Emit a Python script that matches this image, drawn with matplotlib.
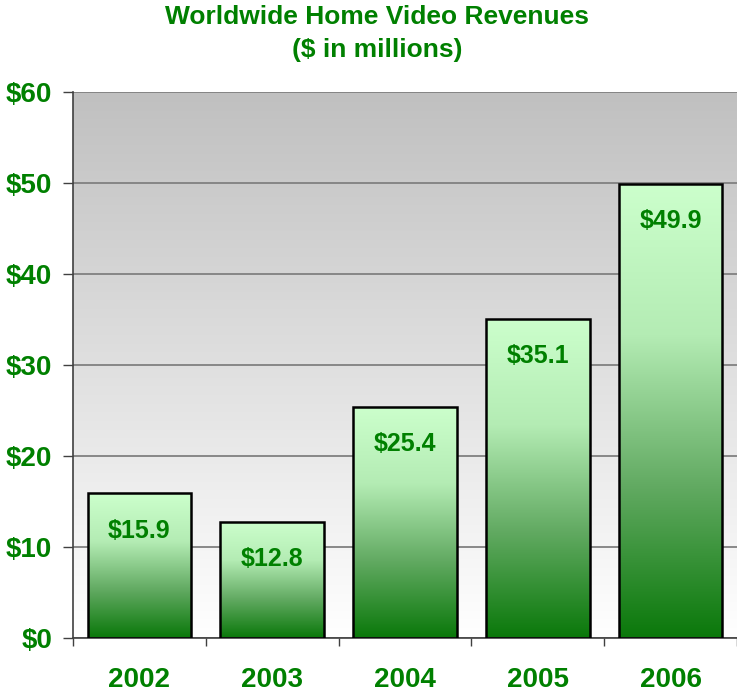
import matplotlib
matplotlib.use('Agg')
import matplotlib.pyplot as plt
import numpy as np
from matplotlib.colors import LinearSegmentedColormap

# data
years = ['2002', '2003', '2004', '2005', '2006']
revenues = [15.9, 12.8, 25.4, 35.1, 49.9]
yticks = [0, 10, 20, 30, 40, 50, 60]

green = '#008000'
plt.rcParams['font.family'] = ['Liberation Sans', 'DejaVu Sans']
plt.rcParams['font.weight'] = 'bold'

fig = plt.figure(figsize=(7.37, 6.94), dpi=100)
ax = fig.add_axes([0.099, 0.0807, 0.901, 0.7867])

x = np.arange(len(years))
ax.set_xlim(-0.5, len(years) - 0.5)
ax.set_ylim(0, 60)

# gray-to-white background
bg = LinearSegmentedColormap.from_list('bg', ['#ffffff', '#c0c0c0'])
grad = np.linspace(0, 1, 256).reshape(-1, 1)
ax.imshow(grad, cmap=bg, origin='lower', aspect='auto',
          extent=[-0.5, len(years) - 0.5, 0, 60], zorder=0)

ax.set_yticks(yticks)
ax.set_yticklabels(['$%d' % v for v in yticks])
ax.yaxis.grid(True, color='#808080', linewidth=1.3, zorder=1)
ax.set_axisbelow(True)

# bars with green gradient
bars = ax.bar(x, revenues, width=0.78, facecolor='none', edgecolor='black',
              linewidth=1.8, zorder=3)
barmap = LinearSegmentedColormap.from_list('bar', ['#0a780a', '#62aa62', '#b4ecb4', '#ccffcc'])
for b in bars:
    bx, by = b.get_x(), b.get_y()
    im = ax.imshow(grad, cmap=barmap, origin='lower', aspect='auto',
                   extent=[bx, bx + b.get_width(), by, by + b.get_height()], zorder=2)
    im.set_clip_path(b)

for xi, v in zip(x, revenues):
    ax.annotate('$%.1f' % v, (xi, v), xytext=(0, -27), textcoords='offset points',
                ha='center', va='center', color=green, fontsize=18, fontweight='bold')

ax.set_xlim(-0.5, len(years) - 0.5)
ax.set_ylim(0, 60)

# category labels between boundary ticks
ax.set_xticks(np.arange(len(years) + 1) - 0.5)
ax.set_xticklabels([])
ax.set_xticks(x, minor=True)
ax.set_xticklabels(years, minor=True)
ax.tick_params(axis='x', which='minor', length=0, pad=21, labelsize=20, labelcolor=green)
ax.tick_params(axis='x', which='major', length=6, color='#404040', width=1)
ax.tick_params(axis='y', length=7, color='#404040', width=1, labelsize=20, labelcolor=green, pad=8)
for lbl in ax.get_xticklabels(minor=True) + ax.get_yticklabels():
    lbl.set_fontweight('bold')

ax.spines['right'].set_visible(False)
ax.spines['top'].set_visible(False)
ax.spines['left'].set_color('#404040')
ax.spines['bottom'].set_color('#404040')
ax.spines['left'].set_linewidth(1.2)
ax.spines['bottom'].set_linewidth(1.2)

fig.text(0.512, 0.975, 'Worldwide Home Video Revenues', ha='center', va='center',
         color=green, fontsize=19, fontweight='bold')
fig.text(0.512, 0.928, '($ in millions)', ha='center', va='center',
         color=green, fontsize=19, fontweight='bold')

fig.savefig('out.png', dpi=100)
